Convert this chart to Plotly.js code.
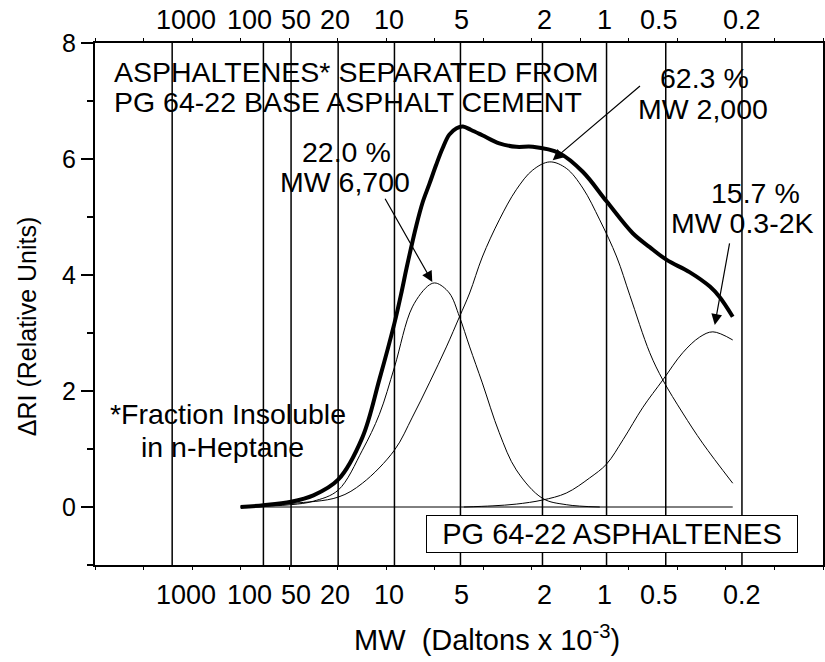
<!DOCTYPE html>
<html>
<head>
<meta charset="utf-8">
<script src="https://cdn.plot.ly/plotly-3.0.1.min.js"></script>
<style>html,body{margin:0;padding:0;background:#fff;}#chart{width:825px;height:662px;}</style>
</head>
<body>
<div id="chart"></div>
<script>
// ---- data (x = elution position, arbitrary units; y = ΔRI) ----
const totalX = [3.0, 3.47, 4.04, 4.5, 5.01, 5.51, 5.86, 6.17, 6.32, 6.42, 6.62, 6.75, 6.89, 7.03, 7.16, 7.30, 7.45, 7.58, 7.75, 7.98, 8.33, 8.68, 9.02, 9.57, 10.05, 10.54, 11.08, 11.43, 11.78, 12.25, 12.67, 12.87, 13.14];
const totalY = [0, 0.03, 0.09, 0.2, 0.47, 1.2, 2.2, 3.17, 3.72, 4.12, 4.85, 5.25, 5.57, 5.9, 6.18, 6.42, 6.53, 6.56, 6.5, 6.41, 6.27, 6.21, 6.21, 6.1, 5.78, 5.27, 4.72, 4.48, 4.26, 4.05, 3.8, 3.62, 3.28];

const peak1X = [3.0, 4.04, 4.5, 5.01, 5.51, 5.86, 6.17, 6.54, 6.89, 7.03, 7.30, 7.51, 7.72, 7.98, 8.33, 8.68, 9.22, 9.71, 10.4];
const peak1Y = [0, 0.04, 0.1, 0.29, 0.98, 1.6, 2.41, 3.45, 3.83, 3.86, 3.69, 3.28, 2.76, 2.14, 1.28, 0.64, 0.15, 0.04, 0.0];

const peak2X = [3.0, 4.04, 5.01, 5.51, 6.17, 6.54, 6.89, 7.24, 7.51, 7.72, 7.98, 8.33, 8.68, 9.02, 9.37, 9.71, 10.05, 10.4, 10.75, 11.02, 11.43, 11.7, 12.11, 12.52, 13.14];
const peak2Y = [0, 0.06, 0.17, 0.41, 0.98, 1.55, 2.14, 2.76, 3.28, 3.69, 4.31, 4.95, 5.47, 5.81, 5.95, 5.84, 5.5, 4.95, 4.31, 3.65, 2.66, 2.19, 1.62, 1.1, 0.41];

const peak3X = [7.6, 8.2, 8.68, 9.22, 9.71, 10.19, 10.54, 10.88, 11.29, 11.7, 12.11, 12.46, 12.73, 13.14];
const peak3Y = [0, 0.02, 0.05, 0.12, 0.24, 0.5, 0.74, 1.16, 1.72, 2.19, 2.66, 2.93, 3.02, 2.88];

const baselineX = [3.0, 13.14];
const baselineY = [0, 0];

// MW (Daltons x 10^-3) calibration lines and their labels
const mwLabels  = ['1000', '100', '50', '20', '10', '5', '2', '1', '0.5', '0.2'];
const mwLinePos = [1.59, 3.47, 4.04, 5.01, 6.17, 7.53, 9.22, 10.54, 11.76, 13.33];
const mwLabelPos = [1.88, 3.18, 4.15, 4.95, 6.05, 7.55, 9.26, 10.50, 11.62, 13.33];

// callout arrows: [tailX, tailY, headX, headY]
const arrowDefs = [
  [5.96, 5.34, 6.95, 3.88],
  [11.26, 7.28, 9.43, 5.98],
  [13.08, 4.57, 12.77, 3.14]
];

// ---- build ----
const FONT = 'Liberation Sans, Arial, Helvetica, sans-serif';
const vx = [], vy = [];
mwLinePos.forEach(p => { vx.push(p, p, null); vy.push(-1, 8, null); });

const traces = [
  {x: vx, y: vy, mode: 'lines', line: {color: '#000', width: 1.5}, hoverinfo: 'skip'},
  {x: baselineX, y: baselineY, mode: 'lines', line: {color: '#000', width: 1}},
  {x: peak1X, y: peak1Y, mode: 'lines', line: {color: '#000', width: 1, shape: 'spline', smoothing: 1}},
  {x: peak2X, y: peak2Y, mode: 'lines', line: {color: '#000', width: 1, shape: 'spline', smoothing: 1}},
  {x: peak3X, y: peak3Y, mode: 'lines', line: {color: '#000', width: 1, shape: 'spline', smoothing: 1}},
  {x: totalX, y: totalY, mode: 'lines', line: {color: '#000', width: 4, shape: 'spline', smoothing: 1}}
];

const ann = [];
const txt = (text, x, y, size, extra) => Object.assign({
  text: text, x: x, y: y, xref: 'x', yref: 'y', showarrow: false,
  xanchor: 'center', yanchor: 'middle', font: {family: FONT, size: size, color: '#000'}
}, extra || {});

mwLabels.forEach((l, i) => {
  ann.push(txt(l, mwLabelPos[i], 1.044, 27, {yref: 'paper'}));
  ann.push(txt(l, mwLabelPos[i], -0.0575, 27, {yref: 'paper'}));
});

const TS = 28.5;
ann.push(txt('ASPHALTENES* SEPARATED FROM', 0.35, 7.5, TS, {xanchor: 'left'}));
ann.push(txt('PG 64-22 BASE ASPHALT CEMENT', 0.35, 6.98, TS, {xanchor: 'left'}));
ann.push(txt('22.0 %', 5.18, 6.12, TS));
ann.push(txt('MW 6,700', 5.16, 5.6, TS));
ann.push(txt('62.3 %', 12.56, 7.39, TS));
ann.push(txt('MW 2,000', 12.52, 6.87, TS));
ann.push(txt('15.7 %', 13.6, 5.41, TS));
ann.push(txt('MW 0.3-2K', 13.35, 4.89, TS));
ann.push(txt('*Fraction Insoluble', 2.74, 1.6, TS));
ann.push(txt('in n-Heptane', 2.62, 1.04, TS));
ann.push(txt('PG 64-22 ASPHALTENES', 10.65, -0.47, 29, {
  bgcolor: '#fff', bordercolor: '#000', borderwidth: 1, borderpad: 0, width: 370, height: 36
}));

arrowDefs.forEach(a => {
  ann.push({
    text: '', x: a[2], y: a[3], ax: a[0], ay: a[1], xref: 'x', yref: 'y', axref: 'x', ayref: 'y',
    showarrow: true, arrowhead: 2, arrowsize: 1.8, arrowwidth: 1.2, arrowcolor: '#000', standoff: 0
  });
});

ann.push({text: 'MW&nbsp; (Daltons x 10<sup>-3</sup>)', x: 0.538, y: -0.14, xref: 'paper', yref: 'paper',
  showarrow: false, xanchor: 'center', yanchor: 'middle', font: {family: FONT, size: 29, color: '#000'}});
ann.push({text: 'ΔRI (Relative Units)', x: -0.093, y: 0.458, xref: 'paper', yref: 'paper', textangle: -90,
  showarrow: false, xanchor: 'center', yanchor: 'middle', font: {family: FONT, size: 25, color: '#000'}});

const layout = {
  width: 825, height: 662,
  margin: {l: 95, r: 2, t: 43, b: 97},
  paper_bgcolor: '#fff', plot_bgcolor: '#fff',
  showlegend: false,
  font: {family: FONT, size: 24, color: '#000'},
  xaxis: {
    range: [0, 15], dtick: 1, tick0: 0, showticklabels: false, ticks: 'outside', ticklen: 3,
    tickwidth: 1, tickcolor: '#000', showline: true, linewidth: 2, linecolor: '#000',
    mirror: 'ticks', showgrid: false, zeroline: false, fixedrange: true
  },
  yaxis: {
    range: [-1, 8], tick0: 0, dtick: 2, ticks: 'outside', ticklen: 12, tickwidth: 2, tickcolor: '#000',
    minor: {dtick: 1, tick0: 0, ticks: 'outside', ticklen: 6, tickwidth: 1.5, tickcolor: '#000', showgrid: false},
    showline: true, linewidth: 2, linecolor: '#000', mirror: true, showgrid: false, zeroline: false,
    tickfont: {family: FONT, size: 25, color: '#000'}, fixedrange: true
  },
  annotations: ann
};

Plotly.newPlot('chart', traces, layout, {staticPlot: true, displayModeBar: false});
</script>
</body>
</html>
